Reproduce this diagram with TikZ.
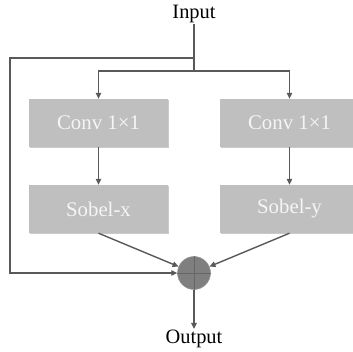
\documentclass[tikz,border=0pt]{standalone}
\usepackage{fontspec}
\setmainfont{Liberation Serif}
\usetikzlibrary{arrows.meta,shadows}
\definecolor{linec}{HTML}{595959}
\definecolor{boxc}{HTML}{BFBFBF}
\definecolor{addc}{HTML}{7F7F7F}
\tikzset{
  arr/.style={draw=linec, line width=1.4pt, -{Triangle[length=6pt,width=5.5pt]}},
  ln/.style={draw=linec, line width=1.4pt},
  blk/.style={rectangle, fill=boxc, minimum width=139pt, minimum height=48pt, inner sep=0pt,
    text=white!96!black, font=\fontsize{20.8}{24}\selectfont,
    drop shadow={shadow xshift=1.2pt, shadow yshift=-1.2pt, opacity=0.35, fill=black!60}},
  lbl/.style={inner sep=1pt, font=\fontsize{20.4}{24}\selectfont, text=black},
  addn/.style={circle, fill=addc, draw=addc!80!white, line width=0.5pt, minimum size=33pt, inner sep=0pt}
}
\begin{document}
\begin{tikzpicture}[x=1pt,y=-1pt]
\useasboundingbox (0,0) rectangle (353,352);
\node[lbl] (in) at (194,14) {Input};
\node[blk] (c1) at (98.5,123) {Conv 1\texttimes1};
\node[blk] (c2) at (289.5,123) {Conv 1\texttimes1};
\node[blk] (s1) at (98.5,209) {Sobel-x};
\node[blk] (s2) at (289.5,209) {Sobel-y};
\node[addn] (add) at (194,273) {};
\node[lbl] (out) at (194,339) {Output};
\coordinate (j1) at (194,58);
\coordinate (j2) at (194,71);
\coordinate (l1) at (10,58);
\draw[draw=black!60, line width=0.9pt] (add.north) -- (add.south) (add.west) -- (add.east);
\draw[ln] (in.south) -- (j2);
\draw[arr] (j1) -- (l1) |- (add.west);
\draw[arr] (j2) -| (c1.north);
\draw[arr] (j2) -| (c2.north);
\draw[arr] (c1.south) -- (s1.north);
\draw[arr] (c2.south) -- (s2.north);
\draw[arr] (s1.south) -- (add);
\draw[arr] (s2.south) -- (add);
\draw[arr] (add.south) -- (out.north);
\end{tikzpicture}
\end{document}
